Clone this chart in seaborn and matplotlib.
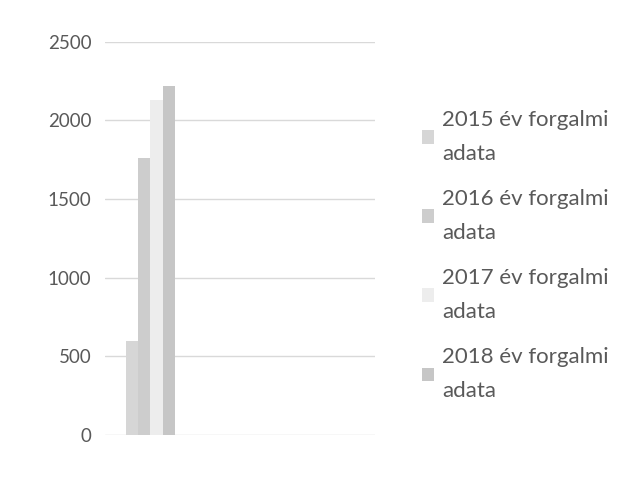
import pandas as pd
import matplotlib
matplotlib.use('Agg')
import matplotlib.pyplot as plt
import seaborn as sns

sns.set_style('white')
plt.rcParams['font.family'] = ['Lato', 'DejaVu Sans']

# adatok
years = ['2015', '2016', '2017', '2018']
values = [600, 1760, 2130, 2220]
colors = ['#d6d6d6', '#cdcdcd', '#ededed', '#c6c6c6']
series = [y + ' év forgalmi\nadata' for y in years]

df = pd.DataFrame({'cat': [''] * len(years), 'series': series, 'value': values})

fig = plt.figure(figsize=(6.38, 4.86), dpi=100)
ax = fig.add_axes([0.165, 0.105, 0.423, 0.809])
sns.barplot(data=df, x='cat', y='value', hue='series', palette=colors,
            width=0.55, saturation=1, ax=ax, edgecolor='none')

ax.set_xlim(-0.5, 2.5)
ax.set_ylim(0, 2500)
ax.set_yticks(range(0, 2501, 500))
ax.grid(axis='y', color='#d9d9d9', linewidth=1)
ax.set_axisbelow(True)
ax.set_xlabel('')
ax.set_ylabel('')
ax.set_xticks([])
sns.despine(ax=ax, left=True, bottom=True)
ax.tick_params(axis='y', length=0, pad=10, labelsize=13.5, labelcolor='#595959')

handles, labels = ax.get_legend_handles_labels()
ax.get_legend().remove()
leg = fig.legend(handles, labels, loc='upper left', bbox_to_anchor=(0.63, 0.815),
                 frameon=False, fontsize=16, labelcolor='#595959',
                 handlelength=0.55, handleheight=0.55, handletextpad=0.35,
                 labelspacing=1.15)
for t in leg.get_texts():
    t.set_linespacing(1.85)

fig.savefig('out.png', dpi=100, facecolor='white')
